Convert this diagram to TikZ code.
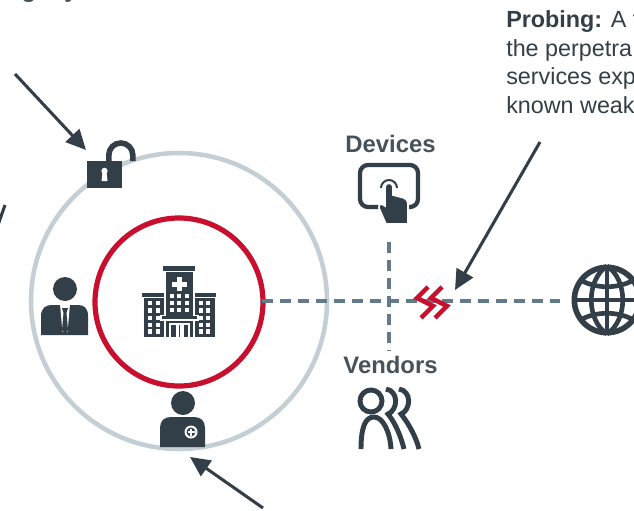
\documentclass[tikz,border=0pt]{standalone}
\usepackage{fontspec}
\setmainfont{Liberation Sans}
\usetikzlibrary{arrows.meta,positioning}
\definecolor{slate}{HTML}{333F48}
\definecolor{ringgrey}{HTML}{C3CFD5}
\definecolor{alertred}{HTML}{C8102E}
\definecolor{linkblue}{HTML}{64798A}
\begin{document}
\begin{tikzpicture}[
    x=0.75pt, y=-0.75pt,
    ring/.style={circle, draw, inner sep=0pt},
    heading/.style={font=\fontsize{17.9}{21}\selectfont\bfseries, text=slate!90!white, inner sep=0pt},
    note/.style={font=\fontsize{17.5}{21.3}\selectfont, text=slate, inner sep=0pt, align=left, anchor=base west},
    pointer/.style={-{Triangle[length=15pt,width=14pt]}, draw=slate, line width=2.3pt},
    link/.style={draw=linkblue, line width=2.6pt, dash pattern=on 8pt off 5.5pt},
    icon/.style={fill=slate, draw=none},
    gap/.style={draw=white, line width=0.8pt},
    pane/.style={fill=white, draw=none},
    zig/.style={draw=alertred, line width=3.4pt, miter limit=10}
]
    \useasboundingbox (0,0) rectangle (634,510);

    \node[ring, draw=ringgrey, line width=3.4pt, minimum size=222pt] (outer) at (179,301) {};
    \node[ring, draw=alertred, line width=3.9pt, minimum size=126pt] (core) at (179,302) {};
    \node[heading] (devices) at (390.5,144) {Devices};
    \node[heading] (vendors) at (390.5,365) {Vendors};
    \node[note] (probing) at (506,113) {\textbf{Probing:} A t\\the perpetra\\services exp\\known weak};
    \node[heading, anchor=base] (cutg) at (29,-2.5) {g};
    \node[heading, anchor=base] (cuty) at (71,-2.5) {y};

    \coordinate (linkstart) at (262,301);
    \coordinate (linkend) at (560,301);
    \coordinate (devfoot) at (389,242);
    \coordinate (venfoot) at (389,351);
    \coordinate (lockfrom) at (15,74);
    \coordinate (locktip) at (86,150);
    \coordinate (probefrom) at (540,142);
    \coordinate (probetip) at (455,290);
    \coordinate (docfrom) at (263,508);
    \coordinate (doctip) at (190,457);
    \coordinate (sidefrom) at (5,205);
    \coordinate (sideto) at (-2,225);

    \draw[link] (linkstart) -- (linkend);
    \draw[link] (devfoot) -- (venfoot);
    \draw[pointer] (lockfrom) -- (locktip);
    \draw[pointer] (probefrom) -- (probetip);
    \draw[pointer] (docfrom) -- (doctip);
    \draw[draw=slate, line width=2.3pt] (sidefrom) -- (sideto);

    % lock
    \draw[draw=slate, line width=4.2pt] (108.8,162) -- (108.8,155) arc[start angle=180, end angle=0, x radius=12, y radius=-12] -- (132.8,161);
    \fill[icon] (87,161) rectangle (122,188);
    \fill[pane] (104.5,171) circle (3.2);
    \fill[pane] (102.5,172) -- (106.5,172) -- (107.5,181) -- (101.5,181) -- cycle;

    % hospital
    \fill[icon] (163,266) rectangle (195,271);
    \fill[icon] (165,272) rectangle (194,337);
    \fill[icon] (142,293) rectangle (165,297);
    \fill[icon] (195,293) rectangle (216,297);
    \fill[icon] (144,298) rectangle (165,337);
    \fill[icon] (195,298) rectangle (215,337);
    \fill[pane] (176.5,277) rectangle (182,291);
    \fill[pane] (172,281.5) rectangle (186.5,287);
    \foreach \wx in {150,158,201,208}
        \foreach \wy in {303,310.5,318,325,331.5}
            \fill[pane] (\wx-2.4,\wy-2.4) rectangle (\wx+2.4,\wy+2.4);
    \foreach \wx in {172,179,187}
        \foreach \wy in {296,303,310}
            \fill[pane] (\wx-2.4,\wy-2.4) rectangle (\wx+2.4,\wy+2.4);
    \fill[icon] (161,316) rectangle (198,320);
    \draw[gap] (165,272) -- (165,315.5) -- (161,315.5) -- (161,320) -- (165,320) -- (165,337);
    \draw[gap] (194,272) -- (194,315.5) -- (198,315.5) -- (198,320) -- (194,320) -- (194,337);
    \draw[gap] (161,320) -- (198,320);
    \fill[pane] (169,323) rectangle (190,337);
    \fill[icon] (171,325) rectangle (175.5,337);
    \fill[icon] (183.5,325) rectangle (188,337);
    \fill[icon] (178.7,325) rectangle (180.3,337);

    % suit
    \fill[icon] (65,289) circle (12);
    \fill[icon] (41,335) -- (41,316) .. controls (41,308) and (46,305) .. (52,305) -- (78,305) .. controls (84,305) and (88,308) .. (88,316) -- (88,335) -- cycle;
    \fill[pane] (60,304) -- (70,304) -- (67.5,332) -- (62.5,332) -- cycle;
    \fill[icon] (62,308) -- (68,308) -- (66.5,313) -- (68,330) -- (65,334) -- (62,330) -- (63.5,313) -- cycle;

    % doctor
    \fill[icon] (183,403) circle (12);
    \fill[icon] (160,447) -- (160,428) .. controls (160,421) and (164,417) .. (171,417) -- (194,417) .. controls (201,417) and (205,421) .. (205,428) -- (205,447) -- cycle;
    \fill[pane] (191,432) circle (6.5);
    \fill[icon] (191,432) circle (4.5);
    \fill[pane] (189.8,428.5) rectangle (192.2,435.5);
    \fill[pane] (187.5,430.8) rectangle (194.5,433.2);

    % tablet and hand
    \draw[draw=slate, line width=3.2pt, rounded corners=6pt] (360,165) rectangle (418,207);
    \draw[draw=slate, line width=1.5pt] (381,188) arc[start angle=180, end angle=0, x radius=8, y radius=-8];
    \fill[icon, draw=white, line width=1.2pt] (385,187) .. controls (385,182) and (393,182) .. (393,187) -- (393,195) -- (404,198) .. controls (408,200) and (408,203) .. (408,207) -- (408,224) -- (386,224) -- (379,208) .. controls (378,204) and (382,203) .. (385,206) -- cycle;

    % vendors
    \draw[draw=slate, line width=3.7pt] (371,401) circle (11);
    \draw[draw=slate, line width=3.7pt] (361,449) .. controls (361,428) and (365,417) .. (374,417) .. controls (383,417) and (390,432) .. (391,449);
    \draw[draw=slate, line width=3.7pt] (386,389) .. controls (399,391) and (398,410) .. (388,414) .. controls (396,424) and (401,437) .. (404,449);
    \draw[draw=slate, line width=3.7pt] (399,389) .. controls (412,391) and (411,410) .. (401,414) .. controls (409,424) and (416,437) .. (419,449);

    % break in the link
    \draw[zig] (428,287) -- (417,298) -- (433,306) -- (421,318);
    \draw[zig] (442,287) -- (431,298) -- (447,306) -- (435,318);

    % globe
    \node[ring, draw=slate, line width=4.2pt, minimum size=49pt] (globe) at (607,300) {};
    \begin{scope}[draw=slate, line width=3.5pt]
        \draw (607,267) -- (607,333);
        \draw (574,300) -- (640,300);
        \draw (607,266) .. controls (586,280) and (586,320) .. (607,334);
        \draw (607,266) .. controls (628,280) and (628,320) .. (607,334);
        \draw (580,280) .. controls (597,289) and (617,289) .. (634,280);
        \draw (580,320) .. controls (597,311) and (617,311) .. (634,320);
    \end{scope}
\end{tikzpicture}
\end{document}
